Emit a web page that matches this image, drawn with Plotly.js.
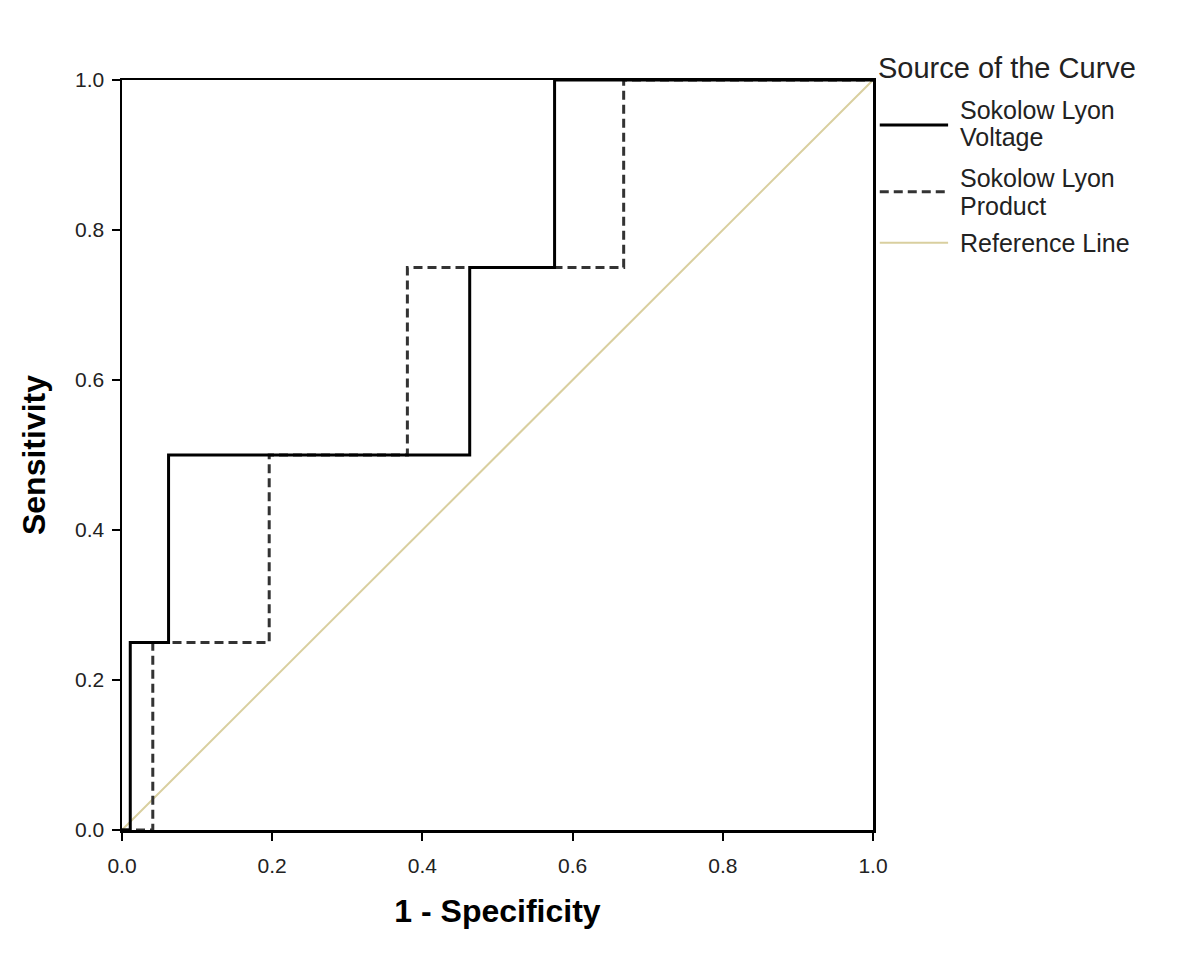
<!DOCTYPE html>
<html><head><meta charset="utf-8">
<script src="https://cdn.plot.ly/plotly-3.0.1.min.js"></script>
<style>body{margin:0;background:#fff}#chart{width:1200px;height:969px}</style>
</head><body><div id="chart"></div>
<script>
const voltageX = [0, 0.011, 0.011, 0.062, 0.062, 0.463, 0.463, 0.576, 0.576, 1.0];
const voltageY = [0, 0, 0.25, 0.25, 0.5, 0.5, 0.75, 0.75, 1.0, 1.0];
const productX = [0, 0.041, 0.041, 0.196, 0.196, 0.380, 0.380, 0.668, 0.668, 1.0];
const productY = [0, 0, 0.25, 0.25, 0.5, 0.5, 0.75, 0.75, 1.0, 1.0];
const refX = [0, 1];
const refY = [0, 1];
const seriesNames = ["Sokolow Lyon<br>Voltage", "Sokolow Lyon<br>Product", "Reference Line"];
const tickVals = [0, 0.2, 0.4, 0.6, 0.8, 1.0];
const tickText = ["0.0", "0.2", "0.4", "0.6", "0.8", "1.0"];

const FONT = "Liberation Sans, Arial, sans-serif";
const colors = ["#000000", "#333333", "#d9cf9f"];
const dashes = ["solid", "9px,5px", "solid"];
const widths = [3, 3, 2];

const traces = [
  {x: refX, y: refY, mode: "lines", line: {color: colors[2], width: widths[2]}, name: seriesNames[2], showlegend: false, hoverinfo: "skip"},
  {x: productX, y: productY, mode: "lines", line: {color: colors[1], width: widths[1], dash: dashes[1]}, name: seriesNames[1], showlegend: false},
  {x: voltageX, y: voltageY, mode: "lines", line: {color: colors[0], width: widths[0]}, name: seriesNames[0], showlegend: false}
];

// custom legend (paper coordinates)
const legLineY = [0.94, 0.851, 0.783];
const legTextY = [[0.96, 0.924], [0.8693, 0.832], [0.783]];
const shapes = [];
const annotations = [{
  xref: "paper", yref: "paper", x: 1.004, y: 1.016, xanchor: "left", yanchor: "middle",
  text: "Source of the Curve", showarrow: false, font: {family: FONT, size: 29, color: "#222"}
}];
for (let i = 0; i < 3; i++) {
  shapes.push({type: "line", xref: "paper", yref: "paper", x0: 1.009, x1: 1.100, y0: legLineY[i], y1: legLineY[i],
    line: {color: colors[i], width: widths[i], dash: dashes[i]}});
  const parts = seriesNames[i].split("<br>");
  parts.forEach((p, j) => {
    annotations.push({xref: "paper", yref: "paper", x: 1.113, y: legTextY[i][j], xanchor: "left", yanchor: "middle",
      align: "left", text: p, showarrow: false, font: {family: FONT, size: 25, color: "#222"}});
  });
}

const axisCommon = {
  range: [0, 1], tickvals: tickVals, ticktext: tickText, ticks: "outside", ticklen: 8, tickwidth: 2,
  tickcolor: "#000", showline: true, linecolor: "#000", linewidth: 2.5, mirror: true,
  showgrid: false, zeroline: false, tickfont: {family: FONT, size: 21, color: "#222"}, fixedrange: true
};

const layout = {
  width: 1200, height: 969, paper_bgcolor: "#fff", plot_bgcolor: "#fff",
  margin: {l: 122, r: 327, t: 80, b: 139},
  showlegend: false,
  xaxis: Object.assign({}, axisCommon, {ticklabelstandoff: 7, title: {text: "<b>1 - Specificity</b>", font: {family: FONT, size: 32, color: "#000"}, standoff: 24}}),
  yaxis: Object.assign({}, axisCommon, {ticklabelstandoff: 3, title: {text: "<b>Sensitivity</b>", font: {family: FONT, size: 32, color: "#000"}, standoff: 20}}),
  shapes: shapes, annotations: annotations
};

Plotly.newPlot("chart", traces, layout, {displayModeBar: false, staticPlot: true});
</script></body></html>
